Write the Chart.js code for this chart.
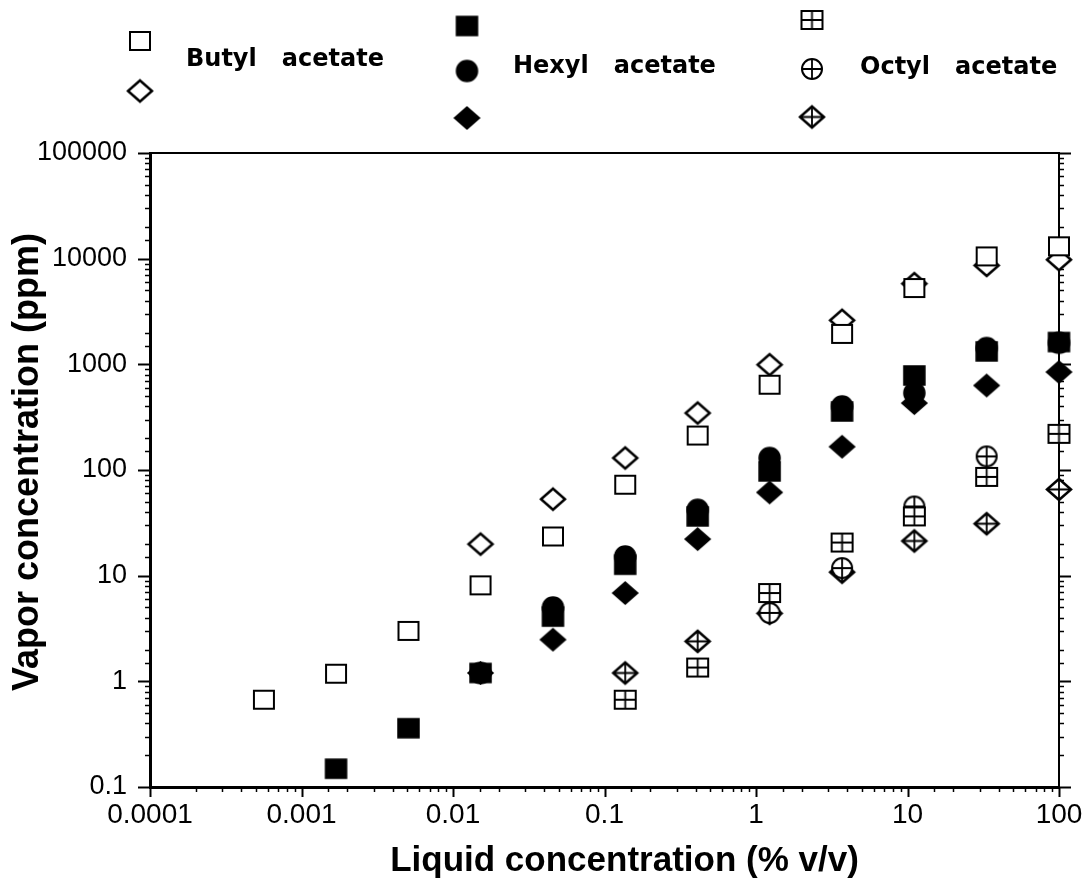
<!DOCTYPE html>
<html>
<head>
<meta charset="utf-8">
<script src="https://cdn.jsdelivr.net/npm/chart.js@4.4.0/dist/chart.umd.min.js"></script>
<style>
  html, body { margin: 0; padding: 0; background: #fff; }
  #wrap { width: 1087px; height: 883px; }
</style>
</head>
<body>
<div id="wrap"><canvas id="vaporChart" width="1087" height="883"></canvas></div>
<script>
// Liquid concentration (% v/v), 1:3 dilution steps
const liquidConc = [0.000565, 0.00169, 0.00508, 0.0152, 0.0457, 0.137, 0.412, 1.23, 3.70, 11.1, 33.3, 100];

// Vapor concentration (ppm), null = no marker
const butylSquare  = [0.67, 1.18, 3.0, 8.1, 23.5, 72.6, 212, 641, 1940, 5270, 10500, 13100];
const butylDiamond = [null, null, null, 19.9, 53, 130, 346, 991, 2610, 5800, 8630, 9770];
const hexylSquare  = [null, 0.149, 0.36, 1.2, 4.1, 12.7, 36.4, 97, 358, 785, 1325, 1626];
const hexylCircle  = [null, null, null, 1.2, 5.0, 15.2, 42, 130, 400, 536, 1427, 1600];
const hexylDiamond = [null, null, null, 1.2, 2.48, 6.85, 22.2, 61.4, 166, 430, 631, 846];
const octylSquare  = [null, null, null, null, null, 0.67, 1.35, 6.85, 20.6, 36.4, 86, 220];
const octylCircle  = [null, null, null, null, null, null, null, 4.44, 11.8, 45.2, 134.5, null];
const octylDiamond = [null, null, null, null, null, 1.2, 2.39, 4.4, 10.8, 21.3, 31, 65.5];

const xTickLabels = ['0.0001', '0.001', '0.01', '0.1', '1', '10', '100'];
const yTickLabels = ['0.1', '1', '10', '100', '1000', '10000', '100000'];

const xTitle = 'Liquid concentration (% v/v)';
const yTitle = 'Vapor concentration (ppm)';

const FONT = '"Liberation Sans", Arial, sans-serif';

// Marker images
function makeMarker(shape, w, h, filled, cross, lw) {
    const c = document.createElement('canvas');
    c.width = Math.ceil(w + 8);
    c.height = Math.ceil(h + 8);
    const g = c.getContext('2d');
    const cx = c.width / 2, cy = c.height / 2;
    g.beginPath();
    if (shape === 'square') {
        g.rect(cx - w / 2, cy - h / 2, w, h);
    } else if (shape === 'circle') {
        g.arc(cx, cy, w / 2, 0, Math.PI * 2);
    } else {
        g.moveTo(cx, cy - h / 2);
        g.lineTo(cx + w / 2, cy);
        g.lineTo(cx, cy + h / 2);
        g.lineTo(cx - w / 2, cy);
        g.closePath();
    }
    g.fillStyle = filled ? '#000' : '#fff';
    g.fill();
    g.lineWidth = lw;
    g.strokeStyle = '#000';
    g.stroke();
    if (cross) {
        g.beginPath();
        g.moveTo(cx - w / 2, cy);
        g.lineTo(cx + w / 2, cy);
        g.moveTo(cx, cy - h / 2);
        g.lineTo(cx, cy + h / 2);
        g.lineWidth = 1.8;
        g.stroke();
    }
    return c;
}

const markers = {
    openSquare:    makeMarker('square', 20, 18, false, false, 2),
    openDiamond:   makeMarker('diamond', 24, 21, false, false, 2.5),
    filledSquare:  makeMarker('square', 21, 19, true, false, 1.5),
    filledCircle:  makeMarker('circle', 21, 21, true, false, 1.5),
    filledDiamond: makeMarker('diamond', 25, 22, true, false, 1.5),
    crossSquare:   makeMarker('square', 21, 18, false, true, 2),
    crossCircle:   makeMarker('circle', 20, 20, false, true, 2),
    crossDiamond:  makeMarker('diamond', 24, 21, false, true, 2.5)
};

function toPoints(values) {
    const pts = [];
    values.forEach((v, i) => {
        if (v !== null) pts.push({ x: liquidConc[i], y: v });
    });
    return pts;
}

function isPow10(v) {
    const l = Math.log10(v);
    return Math.abs(l - Math.round(l)) < 1e-9;
}

// earlier entries are painted on top
const seriesList = [
    { label: 'Butyl acetate', data: butylSquare,  marker: 'openSquare' },
    { label: 'Butyl acetate', data: butylDiamond, marker: 'openDiamond' },
    { label: 'Hexyl acetate', data: hexylSquare,  marker: 'filledSquare' },
    { label: 'Hexyl acetate', data: hexylCircle,  marker: 'filledCircle' },
    { label: 'Hexyl acetate', data: hexylDiamond, marker: 'filledDiamond' },
    { label: 'Octyl acetate', data: octylSquare,  marker: 'crossSquare' },
    { label: 'Octyl acetate', data: octylCircle,  marker: 'crossCircle' },
    { label: 'Octyl acetate', data: octylDiamond, marker: 'crossDiamond' }
];

// Major / minor tick marks, drawn outward
const axisTicks = {
    id: 'axisTicks',
    beforeDatasetsDraw(chart) {
        const ctx = chart.ctx;
        const area = chart.chartArea;
        ctx.save();
        ctx.strokeStyle = '#000';
        ['x', 'y', 'y2'].forEach(id => {
            const s = chart.scales[id];
            s.ticks.forEach(t => {
                const major = isPow10(t.value);
                const len = major ? (id === 'x' ? 10 : 12) : 5;
                const p = Math.round(s.getPixelForValue(t.value)) + 0.5;
                ctx.lineWidth = major ? 2 : 1.5;
                ctx.beginPath();
                if (id === 'x') {
                    ctx.moveTo(p, area.bottom);
                    ctx.lineTo(p, area.bottom + len);
                } else if (id === 'y') {
                    ctx.moveTo(area.left, p);
                    ctx.lineTo(area.left - len, p);
                } else {
                    ctx.moveTo(area.right, p);
                    ctx.lineTo(area.right + len, p);
                }
                ctx.stroke();
            });
        });
        ctx.restore();
    }
};

// Axis titles (placed a little off-centre, as in the source figure)
const axisTitles = {
    id: 'axisTitles',
    afterDraw(chart) {
        const ctx = chart.ctx;
        const area = chart.chartArea;
        ctx.save();
        ctx.fillStyle = '#000';
        ctx.textAlign = 'center';
        ctx.textBaseline = 'middle';
        ctx.font = 'bold 35px ' + FONT;
        ctx.fillText(xTitle, (area.left + area.right) / 2 + 20, 861);
        ctx.translate(28, (area.top + area.bottom) / 2 - 8);
        ctx.rotate(-Math.PI / 2);
        ctx.font = 'bold 36px ' + FONT;
        ctx.fillText(yTitle, 0, 0);
        ctx.restore();
    }
};

// Legend block above the plot
const legendGroups = [
    { text: 'Butyl   acetate', x: 140, textX: 186, textY: 60,
      items: [['openSquare', 41], ['openDiamond', 91]] },
    { text: 'Hexyl   acetate', x: 467, textX: 513, textY: 67,
      items: [['filledSquare', 26], ['filledCircle', 71], ['filledDiamond', 118]] },
    { text: 'Octyl   acetate', x: 812, textX: 860, textY: 68,
      items: [['crossSquare', 20], ['crossCircle', 69], ['crossDiamond', 117]] }
];

const topLegend = {
    id: 'topLegend',
    afterDraw(chart) {
        const ctx = chart.ctx;
        ctx.save();
        ctx.fillStyle = '#000';
        ctx.font = 'bold 24px "DejaVu Sans", sans-serif';
        ctx.textAlign = 'left';
        ctx.textBaseline = 'middle';
        legendGroups.forEach(g => {
            g.items.forEach(([name, y]) => {
                const m = markers[name];
                ctx.drawImage(m, g.x - m.width / 2, y - m.height / 2);
            });
            ctx.fillText(g.text, g.textX, g.textY);
        });
        ctx.restore();
    }
};

const logRange = { min: 0.0001, max: 100 };
const yRange = { min: 0.1, max: 100000 };

new Chart(document.getElementById('vaporChart'), {
    type: 'scatter',
    data: {
        datasets: seriesList.map(s => ({
            label: s.label,
            data: toPoints(s.data),
            pointStyle: markers[s.marker],
            pointRadius: 11,
            clip: false,
            showLine: false
        }))
    },
    options: {
        responsive: false,
        animation: false,
        layout: { padding: { top: 153, right: 28, bottom: 0, left: 0 } },
        plugins: {
            legend: { display: false },
            tooltip: { enabled: false }
        },
        scales: {
            x: {
                type: 'logarithmic',
                position: 'bottom',
                min: logRange.min,
                max: logRange.max,
                afterFit: s => { s.height = 96; s.paddingLeft = 0; s.paddingRight = 0; },
                grid: { drawOnChartArea: false, drawTicks: false },
                border: { display: true, color: '#000', width: 3 },
                ticks: {
                    autoSkip: false,
                    maxRotation: 0,
                    padding: 11,
                    color: '#000',
                    font: { family: FONT, size: 28 },
                    callback: v => isPow10(v) ? xTickLabels[Math.round(Math.log10(v)) + 4] : ''
                }
            },
            x2: {
                type: 'logarithmic',
                position: 'top',
                min: logRange.min,
                max: logRange.max,
                afterFit: s => { s.height = 0; s.paddingLeft = 0; s.paddingRight = 0; },
                grid: { drawOnChartArea: false, drawTicks: false },
                border: { display: true, color: '#000', width: 2 },
                ticks: { display: false }
            },
            y: {
                type: 'logarithmic',
                position: 'left',
                min: yRange.min,
                max: yRange.max,
                afterFit: s => { s.width = 150; s.paddingTop = 0; s.paddingBottom = 0; },
                grid: { drawOnChartArea: false, drawTicks: false },
                border: { display: true, color: '#000', width: 3 },
                ticks: {
                    autoSkip: false,
                    padding: 23,
                    color: '#000',
                    font: { family: FONT, size: 27 },
                    callback: v => isPow10(v) ? yTickLabels[Math.round(Math.log10(v)) + 1] : ''
                }
            },
            y2: {
                type: 'logarithmic',
                position: 'right',
                min: yRange.min,
                max: yRange.max,
                afterFit: s => { s.width = 0; s.paddingTop = 0; s.paddingBottom = 0; },
                grid: { drawOnChartArea: false, drawTicks: false },
                border: { display: true, color: '#000', width: 2 },
                ticks: { display: false, autoSkip: false }
            }
        }
    },
    plugins: [axisTicks, axisTitles, topLegend]
});
</script>
</body>
</html>
